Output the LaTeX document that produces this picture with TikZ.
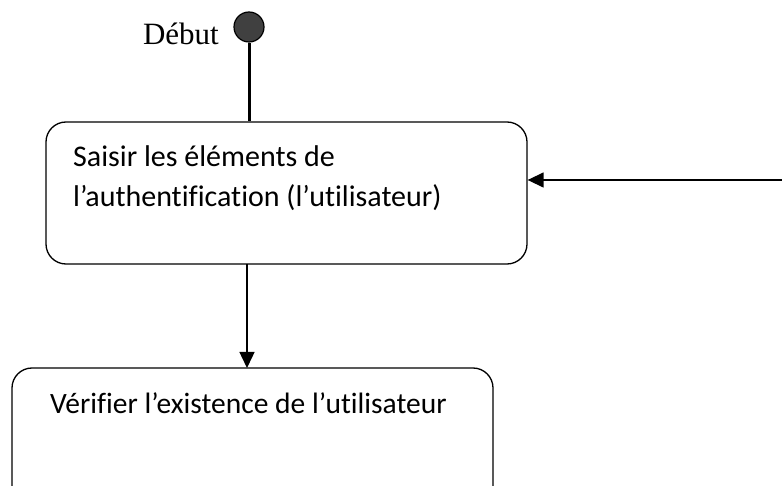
\documentclass[tikz,border=0pt]{standalone}
\usepackage{fontspec}
\setmainfont[Ligatures={NoCommon,NoRare}]{Carlito}
\newfontfamily\timesfont{Liberation Serif}
\usetikzlibrary{arrows.meta}

\tikzset{
  activite/.style={draw, rounded corners=20pt, line width=1.3pt, inner sep=0pt},
  libelle/.style={anchor=base west, align=left, inner sep=0pt,
    font=\fontsize{30}{40}\selectfont},
  fleche/.style={line width=1.4pt, -{Triangle[length=16pt,width=15pt]}}
}

\begin{document}
\begin{tikzpicture}[x=1pt,y=-1pt]
  \useasboundingbox (0,0) rectangle (782,486);
  \clip (0,0) rectangle (782,486);

  % etat initial
  \node[circle, draw, fill=black!75, line width=1.2pt, minimum size=30pt, inner sep=0pt]
    (debut) at (249,27) {};
  \node[anchor=base east, inner sep=0pt, font=\timesfont\fontsize{31}{31}\selectfont]
    (debuttxt) at (219,45) {Début};

  % activites
  \node[activite, minimum width=481pt, minimum height=142pt] (saisir) at (286.5,193) {};
  \node[libelle] (saisirtxt) at (73,207) {Saisir les éléments de\\l’authentification (l’utilisateur)};

  \node[activite, minimum width=481pt, minimum height=200pt] (verifier) at (252.5,468) {};
  \node[libelle, font=\fontsize{29.5}{40}\selectfont] (verifiertxt) at (50,413) {Vérifier l’existence de l’utilisateur};

  % transitions
  \coordinate (retour) at (790,180);
  \draw[line width=3pt] (debut.south) -- (debut.south |- saisir.north);
  \draw[fleche] (retour) -- (saisir.east |- retour);
  \draw[fleche] (247,264) -- (247,368);
\end{tikzpicture}
\end{document}
